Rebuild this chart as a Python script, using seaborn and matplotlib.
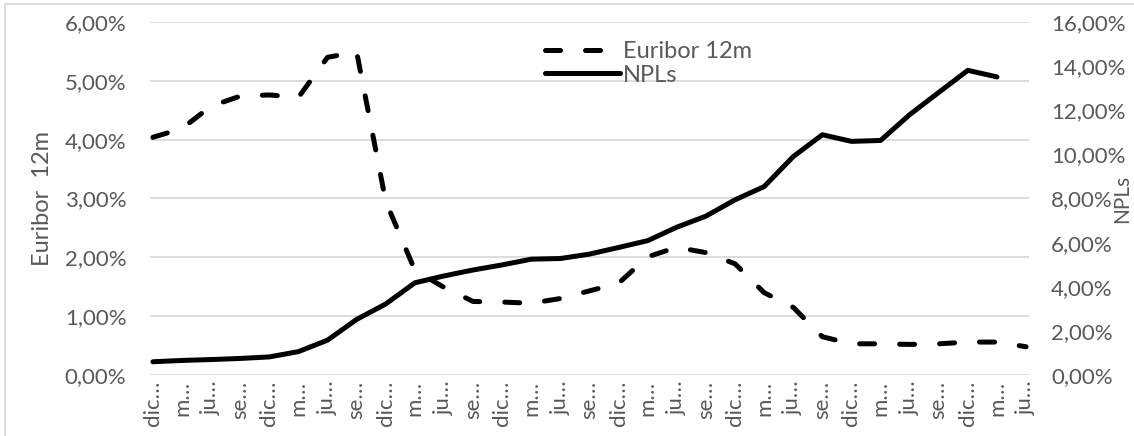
import numpy as np
import pandas as pd
import matplotlib
matplotlib.use("Agg")
import matplotlib.pyplot as plt
import seaborn as sns
from matplotlib.lines import Line2D
from matplotlib.ticker import FuncFormatter, MultipleLocator

# quarterly labels (dic 2006 ... jun 2014), shown truncated as in the source
months = ["dic", "mar", "jun", "sep"] * 7 + ["dic", "mar", "jun"]
short = {"dic": "dic", "mar": "m", "jun": "ju", "sep": "se"}
tick_labels = [short[m] + "\u2026" for m in months]

euribor = [4.04, 4.19, 4.57, 4.74, 4.76, 4.72, 5.40, 5.49, 2.95, 1.78,
           1.49, 1.25, 1.24, 1.22, 1.30, 1.43, 1.56, 2.01, 2.17, 2.08,
           1.89, 1.40, 1.15, 0.65, 0.53, 0.53, 0.52, 0.53, 0.56, 0.56, 0.48]
npls = [0.60, 0.66, 0.70, 0.75, 0.82, 1.06, 1.58, 2.52, 3.22, 4.18,
        4.49, 4.76, 4.99, 5.25, 5.28, 5.48, 5.78, 6.09, 6.70, 7.20,
        7.94, 8.54, 9.90, 10.89, 10.59, 10.63, 11.80, 12.81, 13.81, 13.51, np.nan]

df = pd.DataFrame({"pos": range(len(months)), "euribor": euribor, "npls": npls})

sns.set_theme(style="white")
plt.rcParams["font.family"] = ["Lato", "DejaVu Sans"]

grey = "#595959"
fs = 16

fig = plt.figure(figsize=(11.34, 4.36), dpi=100)
ax = fig.add_axes([150 / 1134, 1 - 375 / 436, 879 / 1134, 353 / 436])
ax2 = ax.twinx()

sns.lineplot(data=df, x="pos", y="euribor", ax=ax, color="black", lw=3.6,
             linestyle=(0, (3, 5)), dash_capstyle="round", solid_capstyle="round")
sns.lineplot(data=df, x="pos", y="npls", ax=ax2, color="black", lw=3.6,
             solid_capstyle="round", solid_joinstyle="round")

ax.set_xlim(-0.1, 30.1)
ax.set_ylim(0, 6)
ax2.set_ylim(0, 16)
ax.yaxis.set_major_locator(MultipleLocator(1))
ax2.yaxis.set_major_locator(MultipleLocator(2))
pct = FuncFormatter(lambda v, _: f"{v:.2f}%".replace(".", ","))
ax.yaxis.set_major_formatter(pct)
ax2.yaxis.set_major_formatter(pct)

ax.set_xticks(df["pos"])
ax.set_xticklabels(tick_labels, rotation=90, fontsize=fs, color=grey)
ax.grid(axis="y", color="#d9d9d9", lw=1.3)
ax.set_axisbelow(True)
for a in (ax, ax2):
    for s in a.spines.values():
        s.set_visible(False)
    a.tick_params(length=0, labelsize=fs, labelcolor=grey)
ax.tick_params(axis="y", pad=17)
ax2.tick_params(axis="y", pad=16)
ax.tick_params(axis="x", pad=4)

ax.set_xlabel("")
ax.set_ylabel("Euribor  12m", fontsize=fs + 1, color=grey)
ax.yaxis.set_label_coords(-0.11, 0.5)
ax2.set_ylabel("NPLs", fontsize=fs - 1, color=grey, rotation=90, va="center")
ax2.yaxis.set_label_coords(1.106, 0.5)

handles = [
    Line2D([], [], color="black", lw=3.6, linestyle=(0, (3, 5)), dash_capstyle="round"),
    Line2D([], [], color="black", lw=3.6, solid_capstyle="round"),
]
leg = fig.legend(handles, ["Euribor 12m", "NPLs"], loc="upper left",
                 bbox_to_anchor=(533 / 1134, 1 - 29 / 436), frameon=False,
                 fontsize=fs + 1, handlelength=3.2, handletextpad=0.1,
                 labelspacing=0.12, borderpad=0)
for t in leg.get_texts():
    t.set_color(grey)

# outer chart frame
fig.add_artist(Line2D([5 / 1134, 1], [1 - 4 / 436] * 2, color="#d9d9d9", lw=1.3))
fig.add_artist(Line2D([5 / 1134] * 2, [0, 1 - 4 / 436], color="#d9d9d9", lw=1.3))

fig.savefig("out.png", dpi=100)
